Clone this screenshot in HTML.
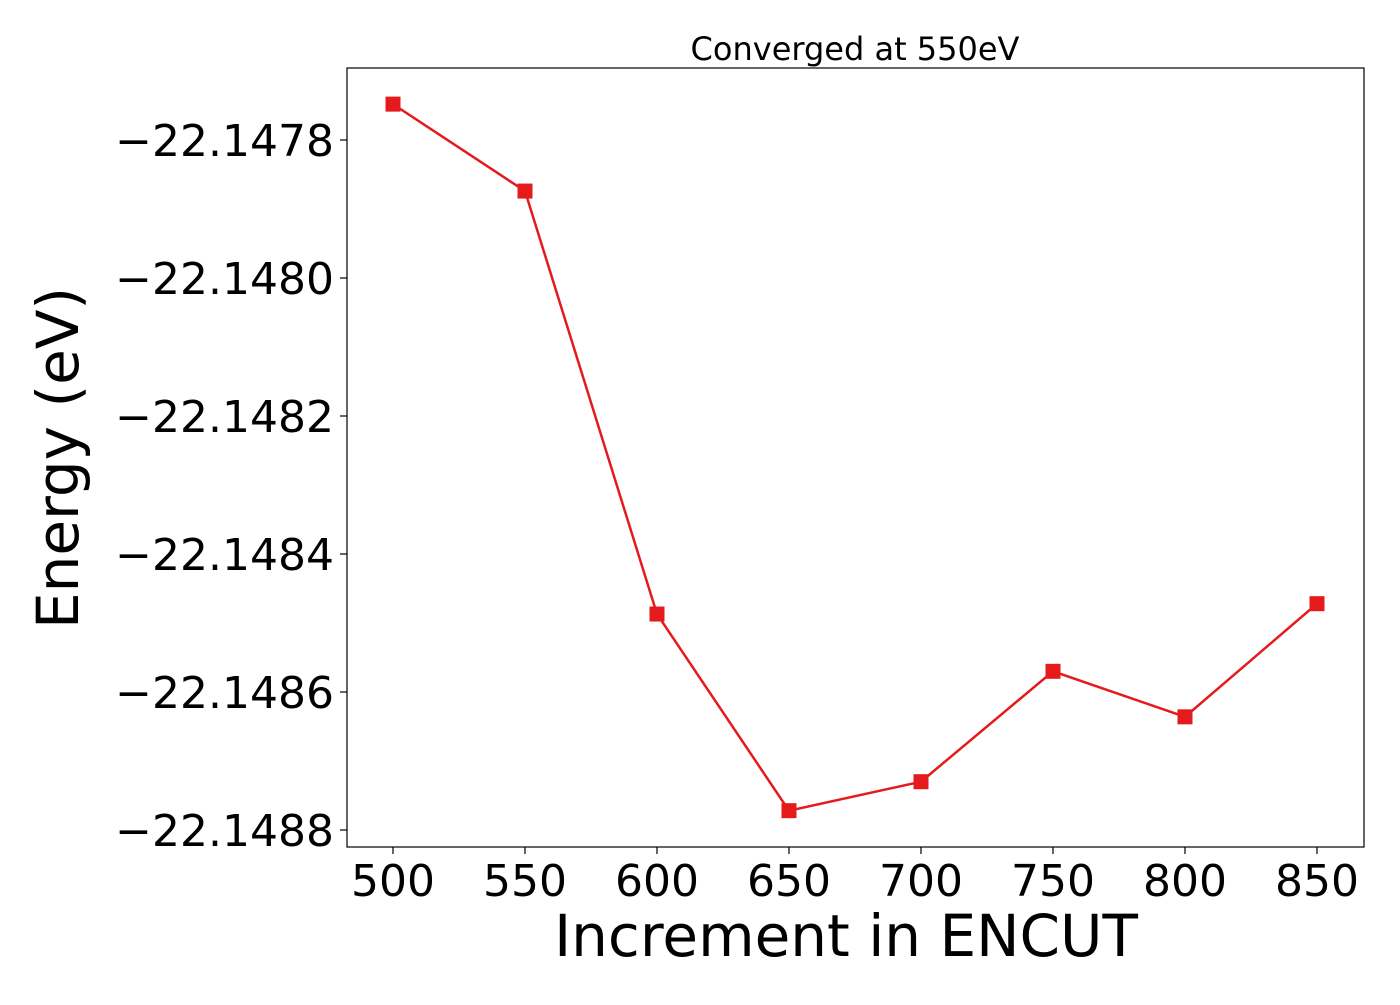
<!DOCTYPE html>
<html><head><meta charset="utf-8"><style>
html,body{margin:0;padding:0;background:#fff;}
svg text{font-family:"DejaVu Sans","Liberation Sans",sans-serif;fill:#000;}
</style></head><body>
<svg id="chart" width="1400" height="1000" xmlns="http://www.w3.org/2000/svg">
<rect width="1400" height="1000" fill="#fff"/>
<g id="axes"></g>
<g id="marks"></g>
<rect x="347" y="68" width="1017" height="779" fill="none" stroke="#000" stroke-width="1.2"/>
<text x="855" y="60" font-size="32" text-anchor="middle">Converged at 550eV</text>
<text x="846" y="956" font-size="58" text-anchor="middle">Increment in ENCUT</text>
<text transform="translate(78,458) rotate(-90)" font-size="58" text-anchor="middle">Energy (eV)</text>
</svg>
<script>
const encut = [500, 550, 600, 650, 700, 750, 800, 850];
const energy = [-22.147748, -22.147874, -22.148487, -22.148772, -22.148730, -22.148570, -22.148636, -22.148472];
const xTicks = [500, 550, 600, 650, 700, 750, 800, 850];
const yTicks = [-22.1478, -22.1480, -22.1482, -22.1484, -22.1486, -22.1488];
const yTickLabels = ["\u221222.1478", "\u221222.1480", "\u221222.1482", "\u221222.1484", "\u221222.1486", "\u221222.1488"];

const NS = "http://www.w3.org/2000/svg";
function xs(v){ return 393 + (v - 500) * (1317 - 393) / 350; }
function ys(v){ return 140 + (-22.1478 - v) * (830 - 140) / 0.001; }
const axes = document.getElementById('axes');
const marks = document.getElementById('marks');
function mk(tag, attrs, parent){ const e = document.createElementNS(NS, tag); for (const k in attrs) e.setAttribute(k, attrs[k]); parent.appendChild(e); return e; }

xTicks.forEach(function(t){
  const x = xs(t);
  const tk = mk('line', {x1:x, x2:x, y1:847, y2:854, stroke:'#000', 'stroke-width':1.2}, axes);
  
  
  const lb = mk('text', {x:x, y:896, 'font-size':44, 'text-anchor':'middle'}, axes);
  lb.textContent = String(t);
  
  
});
yTicks.forEach(function(t, i){
  const y = ys(t);
  const tk = mk('line', {x1:340, x2:347, y1:y, y2:y, stroke:'#000', 'stroke-width':1.2}, axes);
  
  
  const lb = mk('text', {x:334, y:y + 16, 'font-size':44, 'text-anchor':'end'}, axes);
  lb.textContent = yTickLabels[i];
  
  
});
const pts = encut.map(function(v, i){ return xs(v) + ',' + ys(energy[i]); }).join(' ');
const line = mk('polyline', {points:pts, fill:'none', stroke:'#e41a1c', 'stroke-width':2.5}, marks);


encut.forEach(function(v, i){
  const r = mk('rect', {x:xs(v) - 7.5, y:ys(energy[i]) - 7.5, width:15, height:15, fill:'#e41a1c'}, marks);
  
  
});
</script>
</body></html>
